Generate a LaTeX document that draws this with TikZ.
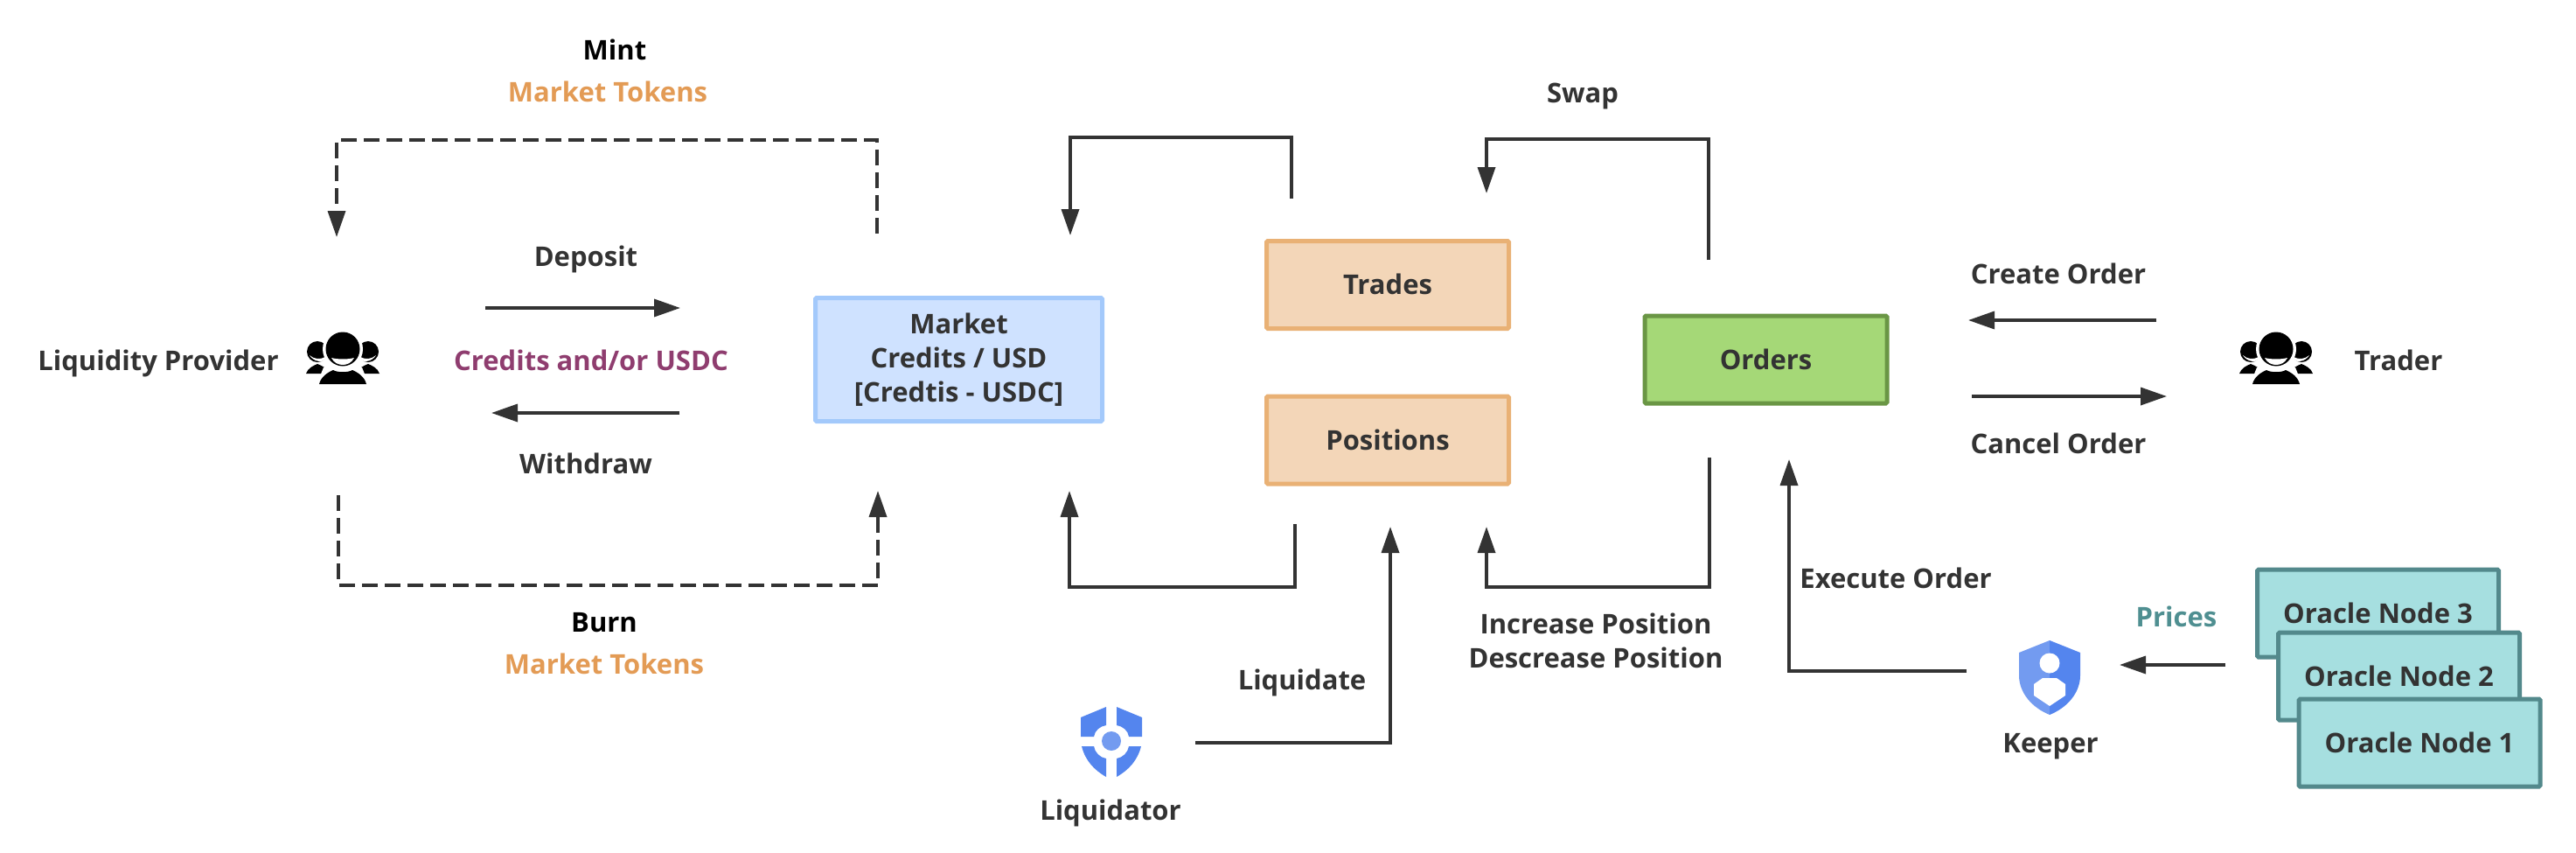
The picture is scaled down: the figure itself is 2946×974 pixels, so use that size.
\documentclass[tikz,border=0pt]{standalone}
\usepackage{fontspec}
\setmainfont{Open Sans}
\usetikzlibrary{arrows.meta}
\definecolor{ink}{HTML}{333333}
\definecolor{tokenc}{HTML}{E39B55}
\definecolor{creditc}{HTML}{8F3D6F}
\definecolor{pricec}{HTML}{4F8F91}
\definecolor{iconb}{HTML}{5485EE}
\definecolor{iconl}{HTML}{739BF0}
\tikzset{
  lbl/.style={font=\fontsize{31}{39}\selectfont\bfseries, text=ink, inner sep=0pt, align=center},
  slbl/.style={lbl, text height=22pt, text depth=0pt},
  boxbase/.style={draw, line width=5pt, rounded corners=1.5pt, lbl, minimum width=277pt, minimum height=100pt},
  marketbox/.style={boxbase, fill=marketfill, draw=marketline, minimum width=328pt, minimum height=141pt},
  tradebox/.style={boxbase, slbl, fill=tradefill, draw=tradeline},
  orderbox/.style={boxbase, slbl, fill=orderfill, draw=orderline},
  oraclebox/.style={boxbase, slbl, fill=oraclefill, draw=oracleline},
  conn/.style={draw=ink, line width=3.5pt, line join=miter, -{Triangle[length=30pt,width=20pt]}},
  dconn/.style={conn, dash pattern=on 18pt off 8pt},
}
\definecolor{marketfill}{HTML}{CFE2FF}
\definecolor{marketline}{HTML}{A3C9FB}
\definecolor{tradefill}{HTML}{F3D6B8}
\definecolor{tradeline}{HTML}{E9B175}
\definecolor{orderfill}{HTML}{A5D877}
\definecolor{orderline}{HTML}{6A9645}
\definecolor{oraclefill}{HTML}{A6DFE0}
\definecolor{oracleline}{HTML}{53898C}
\newcommand{\peopleicon}[1]{%
  \begin{scope}[shift={(#1)}]
    % side people
    \foreach \s in {-1,1}{
      \fill[black] (\s*29,2) circle [radius=12];
      \fill[white] (\s*20,8) .. controls (\s*25,11) and (\s*33,11) .. (\s*38,6) .. controls (\s*34,13) and (\s*24,15) .. (\s*20,11) -- cycle;
      \fill[black] (\s*42,27) .. controls (\s*40,21) and (\s*34,18) .. (\s*29,16) .. controls (\s*24,18) and (\s*19,20) .. (\s*15,27) -- cycle;
    }
    % main person
    \fill[white] (0,-1) circle [radius=23];
    \fill[white] (-30,40) -- (-22,20) -- (22,20) -- (30,40) -- cycle;
    \fill[black] (0,-1) circle [radius=19.5];
    \fill[white] (-13,9) .. controls (-6,11) and (6,11) .. (13,9) .. controls (10,15) and (5,17) .. (0,17) .. controls (-5,17) and (-10,15) .. (-13,9) -- cycle;
    \fill[black] (-27,39) .. controls (-25,31) and (-18,26) .. (-11,23) .. controls (-6,26) and (6,26) .. (11,23) .. controls (18,26) and (25,31) .. (27,39) -- cycle;
  \end{scope}}
\begin{document}
\begin{tikzpicture}[x=1pt,y=-1pt]
\useasboundingbox (0,0) rectangle (2946,974);
\fill[white] (0,0) rectangle (2946,974);

% boxes
\node[marketbox] (market) at (1096.5,411) {Market\\Credits / USD\\{[}Credtis - USDC{]}};
\node[tradebox] (trades) at (1587,325.5) {Trades};
\node[tradebox] (positions) at (1587,503) {Positions};
\node[orderbox] (orders) at (2019.5,411) {Orders};
\node[oraclebox, minimum width=276pt] (o3) at (2719.5,701) {Oracle Node 3};
\node[oraclebox, minimum width=276pt] (o2) at (2743.5,773) {Oracle Node 2};
\node[oraclebox, minimum width=276pt] (o1) at (2767,849) {Oracle Node 1};

% people
\peopleicon{392,400}
\peopleicon{2603,400}

% liquidator shield
\begin{scope}[shift={(1271,847)}]
  \coordinate (liqicon) at (0,0);
  \foreach \s in {-1,1}{
    \fill[iconb] (\s*35,-5) -- (\s*35,-27) -- (\s*6,-39) -- (\s*6,-18) .. controls (\s*13,-17) and (\s*19,-12) .. (\s*20,-5) -- cycle;
    \fill[iconb] (\s*34,6) -- (\s*20,6) .. controls (\s*19,13) and (\s*13,19) .. (\s*6,20) -- (\s*6,41) .. controls (\s*20,33) and (\s*30,22) .. (\s*34,6) -- cycle;
  }
  \fill[iconl] (0,0) circle [radius=11];
\end{scope}

% keeper shield
\begin{scope}[shift={(2344,732)}]
  \coordinate (keepicon) at (0,0);
  \fill[iconl] (0,0) -- (-35,14) -- (-35,40) .. controls (-35,60) and (-20,77) .. (0,85) -- cycle;
  \fill[iconb] (0,0) -- (35,14) -- (35,40) .. controls (35,60) and (20,77) .. (0,85) -- cycle;
  \fill[white] (0,26) circle [radius=11.5];
  \fill[white] (-8,43) -- (8,43) -- (18,50) -- (18,63) -- (0,75) -- (-18,63) -- (-18,50) -- cycle;
\end{scope}

% labels
\node[slbl, text=black] (mint) at (703,57) {Mint};
\node[slbl, text=tokenc] (mtoken) at (695,105) {Market Tokens};
\node[slbl] (deposit) at (670,293) {Deposit};
\node[slbl, text=creditc] (credits) at (676,412) {Credits and/or USDC};
\node[slbl] (withdraw) at (670,530) {Withdraw};
\node[slbl] (lp) at (181,412) {Liquidity Provider};
\node[slbl, text=black] (burn) at (691,711) {Burn};
\node[slbl, text=tokenc] (btoken) at (691,759) {Market Tokens};
\node[slbl] (swap) at (1810,106) {Swap};
\node[slbl] (createo) at (2354,313) {Create Order};
\node[slbl] (cancelo) at (2354,507) {Cancel Order};
\node[slbl] (trader) at (2743,412) {Trader};
\node[slbl] (liquidate) at (1489,777) {Liquidate};
\node[slbl] (liquidator) at (1270,926) {Liquidator};
\node[lbl] (incdec) at (1825,732) {Increase Position\\Descrease Position};
\node[slbl] (execo) at (2168,661) {Execute Order};
\node[slbl] (keeper) at (2345,849) {Keeper};
\node[slbl, text=pricec] (prices) at (2489,705) {Prices};

% connector ends
\coordinate (mintS) at (1003,267); \coordinate (mintA) at (1003,160); \coordinate (mintB) at (385,160); \coordinate (mintE) at (385,271);
\coordinate (burnS) at (387,566); \coordinate (burnA) at (387,669); \coordinate (burnB) at (1004,669); \coordinate (burnE) at (1004,561);
\coordinate (depS) at (555,352); \coordinate (depE) at (778,352);
\coordinate (witS) at (777,472); \coordinate (witE) at (562,472);
\coordinate (trS) at (1477,227); \coordinate (trA) at (1477,157); \coordinate (trB) at (1224,157); \coordinate (trE) at (1224,269);
\coordinate (swS) at (1954,297); \coordinate (swA) at (1954,159); \coordinate (swB) at (1700,159); \coordinate (swE) at (1700,221);
\coordinate (poS) at (1481,599); \coordinate (poA) at (1481,671); \coordinate (poB) at (1223,671); \coordinate (poE) at (1223,561);
\coordinate (inS) at (1955,523); \coordinate (inA) at (1955,671); \coordinate (inB) at (1700,671); \coordinate (inE) at (1700,602);
\coordinate (liS) at (1367,849); \coordinate (liA) at (1590,849); \coordinate (liE) at (1590,602);
\coordinate (exS) at (2249,767); \coordinate (exA) at (2046,767); \coordinate (exE) at (2046,525);
\coordinate (crS) at (2466,366); \coordinate (crE) at (2251,366);
\coordinate (caS) at (2255,453); \coordinate (caE) at (2478,453);
\coordinate (prS) at (2545,760); \coordinate (prE) at (2424,760);

% connectors
\draw[dconn] (mintS) -- (mintA) -- (mintB) -- (mintE);
\draw[dconn] (burnS) -- (burnA) -- (burnB) -- (burnE);
\draw[conn] (depS) -- (depE);
\draw[conn] (witS) -- (witE);
\draw[conn] (trS) -- (trA) -- (trB) -- (trE);
\draw[conn] (swS) -- (swA) -- (swB) -- (swE);
\draw[conn] (poS) -- (poA) -- (poB) -- (poE);
\draw[conn] (inS) -- (inA) -- (inB) -- (inE);
\draw[conn] (liS) -- (liA) -- (liE);
\draw[conn] (exS) -- (exA) -- (exE);
\draw[conn] (crS) -- (crE);
\draw[conn] (caS) -- (caE);
\draw[conn] (prS) -- (prE);
\end{tikzpicture}
\end{document}
